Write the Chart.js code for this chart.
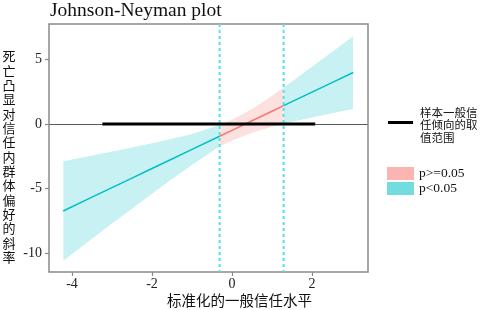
<!DOCTYPE html>
<html>
<head>
<meta charset="utf-8">
<script src="https://cdn.jsdelivr.net/npm/chart.js@4/dist/chart.umd.min.js"></script>
<style>
  body { margin: 0; background: #fff; }
  #wrap { position: relative; width: 480px; height: 310px; font-family: "Liberation Serif", serif; color: #111; }
  #chart { position: absolute; left: 0; top: 0; }
  #title { position: absolute; left: 50px; top: -0.5px; font-size: 19.5px; line-height: 19.5px; white-space: nowrap; }
  #ylab { position: absolute; left: 2.5px; top: 49.5px; writing-mode: vertical-rl; text-orientation: upright;
    font-family: "Noto Sans CJK SC"; font-size: 13px; line-height: 13px; letter-spacing: 1.33px; }
  #xlab { position: absolute; left: 167px; top: 292px; font-family: "Noto Sans CJK SC"; font-size: 14.5px; line-height: 15px; white-space: nowrap; }
  #lg-range-line { position: absolute; left: 388px; top: 120.5px; width: 25px; height: 3px; background: #000; }
  #lg-range-text { position: absolute; left: 420px; top: 105.5px; font-family: "Noto Sans CJK SC"; font-size: 11.5px; line-height: 12.7px; }
  .box { position: absolute; left: 387px; width: 27px; height: 13px; }
  .lab { position: absolute; left: 419px; font-size: 13.5px; line-height: 14px; white-space: nowrap; }
</style>
</head>
<body>
<div id="wrap">
  <canvas id="chart" width="480" height="310"></canvas>
  <div id="title">Johnson-Neyman plot</div>
  <div id="ylab">死亡凸显对信任内群体偏好的斜率</div>
  <div id="xlab">标准化的一般信任水平</div>
  <div id="lg-range-line"></div>
  <div id="lg-range-text">样本一般信<br>任倾向的取<br>值范围</div>
  <div class="box" style="top:167px;background:rgba(248,118,109,0.55)"></div>
  <div class="lab" style="top:166px">p&gt;=0.05</div>
  <div class="box" style="top:182px;background:rgba(0,191,196,0.55)"></div>
  <div class="lab" style="top:181px">p&lt;0.05</div>
</div>
<script>
// moderator values (standardised general trust)
let trustX = [-4.22, -3.5, -3, -2.5, -2, -1.5, -1, -0.31, 0, 0.5, 1, 1.29, 1.5, 2, 2.5, 3.03];
// simple slope and its confidence band
let slopeY = [-6.74, -5.67, -4.93, -4.19, -3.45, -2.71, -1.97, -0.95, -0.49, 0.25, 0.99, 1.42, 1.73, 2.47, 3.21, 3.99];
let upperY = [-2.89, -2.45, -2.14, -1.82, -1.49, -1.15, -0.77, -0.07, 0.32, 1.17, 2.19, 2.82, 3.29, 4.43, 5.58, 6.81];
let lowerY = [-10.59, -8.89, -7.72, -6.56, -5.41, -4.27, -3.17, -1.72, -1.3, -0.67, -0.21, 0.02, 0.17, 0.51, 0.84, 1.17];
// Johnson-Neyman bounds and observed range of the moderator
let jnBounds = [-0.31, 1.29];
let sampleRange = [-3.24, 2.08];
let xTicks = [-4, -2, 0, 2];
let yTicks = [-10, -5, 0, 5];
let xMin = -4.575, xMax = 3.4;
let yMin = -11.47, yMax = 7.75;

let sigLine = "#00BFC4";
let nsLine = "#F8766D";
let sigBand = "rgba(0,191,196,0.22)";
let nsBand = "rgba(248,118,109,0.22)";
let frameColor = "#8a8a8a";

// index where each region starts / ends in trustX
let iLow = trustX.indexOf(jnBounds[0]);
let iHigh = trustX.indexOf(jnBounds[1]);

let pts = (ys, from, to) => {
  let out = [];
  for (let i = from; i <= to; i++) out.push({ x: trustX[i], y: ys[i] });
  return out;
};

let band = (ys, from, to, color, fill) => ({
  data: pts(ys, from, to),
  borderWidth: 0,
  pointRadius: 0,
  backgroundColor: color,
  fill: fill,
  order: 3,
});

let line = (data, color, width, dash) => ({
  data: data,
  borderColor: color,
  borderWidth: width,
  borderDash: dash || [],
  pointRadius: 0,
  fill: false,
});

let datasets = [
  band(upperY, 0, iLow, sigBand, "+1"),
  band(lowerY, 0, iLow, sigBand, false),
  band(upperY, iLow, iHigh, nsBand, "+1"),
  band(lowerY, iLow, iHigh, nsBand, false),
  band(upperY, iHigh, trustX.length - 1, sigBand, "+1"),
  band(lowerY, iHigh, trustX.length - 1, sigBand, false),
];
for (const b of jnBounds) {
  let d = line([{ x: b, y: yMax }, { x: b, y: yMin }], "#55e0e8", 2, [3, 3]);
  d.order = 2;
  datasets.push(d);
}
let s1 = line(pts(slopeY, 0, iLow), sigLine, 1.5);
let s2 = line(pts(slopeY, iLow, iHigh), nsLine, 1.5);
let s3 = line(pts(slopeY, iHigh, trustX.length - 1), sigLine, 1.5);
s1.order = s2.order = s3.order = 1;
datasets.push(s1, s2, s3);
let r = line([{ x: sampleRange[0], y: 0 }, { x: sampleRange[1], y: 0 }], "#000", 3);
r.order = 0;
datasets.push(r);

let framePlugin = {
  id: "frame",
  beforeDatasetsDraw(chart) {
    let a = chart.chartArea;
    let ctx = chart.ctx;
    ctx.save();
    ctx.strokeStyle = frameColor;
    ctx.lineWidth = 1.5;
    ctx.strokeRect(a.left, a.top, a.right - a.left, a.bottom - a.top);
    ctx.restore();
  },
};

let tickFont = { family: "Liberation Serif", size: 14 };

new Chart(document.getElementById("chart").getContext("2d"), {
  type: "scatter",
  data: { datasets: datasets },
  plugins: [framePlugin],
  options: {
    responsive: false,
    animation: false,
    showLine: true,
    layout: { padding: { left: 0, right: 112, top: 24, bottom: 0 } },
    plugins: { legend: { display: false }, tooltip: { enabled: false } },
    scales: {
      x: {
        type: "linear",
        min: xMin,
        max: xMax,
        afterBuildTicks: (s) => { s.ticks = xTicks.map((v) => ({ value: v })); },
        afterFit: (s) => { s.height = 38; },
        border: { display: false },
        grid: { color: "rgba(0,0,0,0)", tickColor: frameColor, tickLength: 4, tickWidth: 1.2 },
        ticks: { font: tickFont, color: "#222", padding: 0, maxRotation: 0 },
      },
      y: {
        type: "linear",
        min: yMin,
        max: yMax,
        afterBuildTicks: (s) => { s.ticks = yTicks.map((v) => ({ value: v })); },
        afterFit: (s) => { s.width = 49; },
        border: { display: false },
        grid: {
          color: (c) => (c.tick && c.tick.value === 0 ? "#5a5a5a" : "rgba(0,0,0,0)"),
          tickColor: frameColor,
          tickLength: 4,
          tickWidth: 1.2,
        },
        ticks: { font: tickFont, color: "#222", padding: 3 },
      },
    },
  },
});
</script>
</body>
</html>
